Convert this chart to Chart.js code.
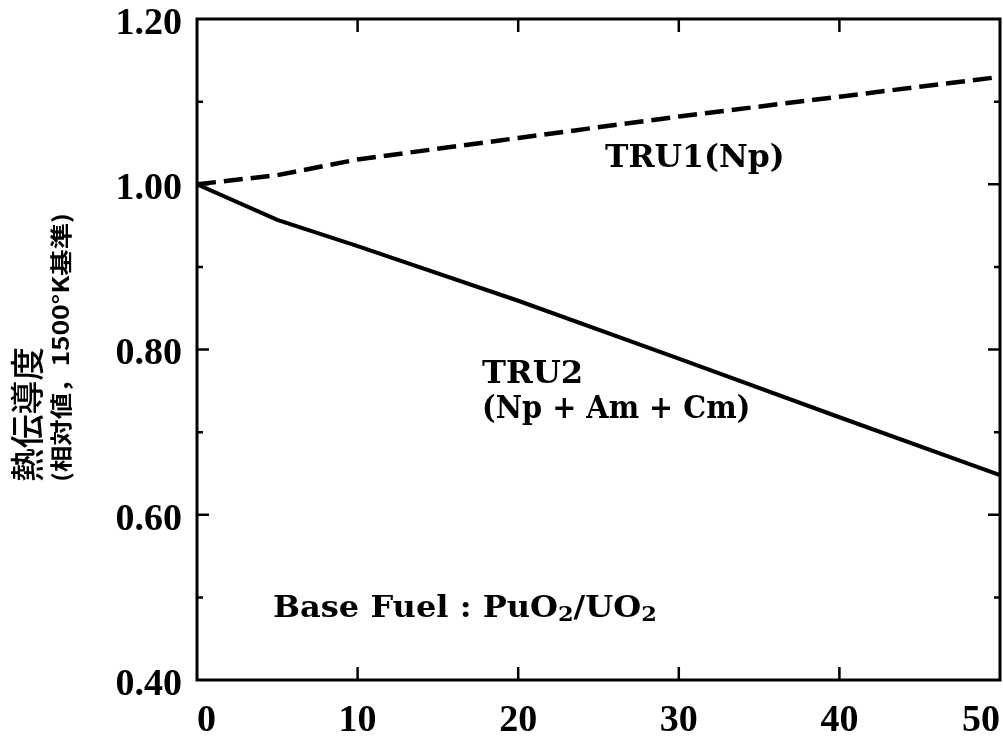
<!DOCTYPE html>
<html>
<head>
<meta charset="utf-8">
<script src="https://cdn.jsdelivr.net/npm/chart.js@4/dist/chart.umd.min.js"></script>
<style>
html,body{margin:0;padding:0;background:#fff;}
canvas{display:block;}
</style>
</head>
<body>
<canvas id="c" width="1003" height="738"></canvas>
<script>
// ---- data ----
const burnup = [0, 5, 10, 20, 30, 40, 50];
const tru1Np = [1.000, 1.011, 1.030, 1.056, 1.082, 1.106, 1.130];
const tru2NpAmCm = [1.000, 0.957, 0.925, 0.859, 0.789, 0.718, 0.648];
const xTickValues = [0, 10, 20, 30, 40, 50];
const yTickLabels = ['0.40', '0.60', '0.80', '1.00', '1.20'];
const yTitleLine1 = '熱伝導度';
const yTitleLine2 = '(相対値，1500°K基準)';
const label1 = 'TRU1(Np)';
const label2a = 'TRU2';
const label2b = '(Np + Am + Cm)';
const baseFuelParts = [['Base Fuel : PuO', false], ['2', true], ['/UO', false], ['2', true]];

const tickFont = {family: '"Liberation Serif", "Times New Roman", serif', weight: 'bold', size: 38, lineHeight: 1};
const annFont = 'bold 32px "DejaVu Serif", "Liberation Serif", serif';

function fitText(ctx, text, x, y, w) {
  const m = ctx.measureText(text).width;
  ctx.save();
  ctx.translate(x, y);
  ctx.scale(w / m, 1);
  ctx.fillText(text, 0, 0);
  ctx.restore();
}

const framePlugin = {
  id: 'frame',
  afterDraw(chart) {
    const ctx = chart.ctx, a = chart.chartArea;
    const xs = chart.scales.x, ys = chart.scales.y;
    ctx.save();
    ctx.strokeStyle = '#000';
    ctx.lineWidth = 3;
    ctx.strokeRect(a.left, a.top, a.right - a.left, a.bottom - a.top);
    ctx.lineWidth = 2.5;
    ctx.beginPath();
    ys.ticks.forEach(t => {
      const v = t.value;
      if (Math.abs(v - ys.min) < 1e-6 || Math.abs(v - ys.max) < 1e-6) return;
      const major = Math.round(v * 10) % 2 === 0;
      const len = major ? 12 : 6;
      const py = ys.getPixelForValue(v);
      ctx.moveTo(a.left, py); ctx.lineTo(a.left + len, py);
      ctx.moveTo(a.right, py); ctx.lineTo(a.right - len, py);
    });
    xs.ticks.forEach(t => {
      const v = t.value;
      if (v === xs.min || v === xs.max) return;
      const px = xs.getPixelForValue(v);
      ctx.moveTo(px, a.bottom); ctx.lineTo(px, a.bottom - 13);
      ctx.moveTo(px, a.top); ctx.lineTo(px, a.top + 13);
    });
    ctx.stroke();

    // annotations
    ctx.fillStyle = '#000';
    ctx.font = annFont;
    ctx.textBaseline = 'alphabetic';
    ctx.textAlign = 'left';
    const X = v => xs.getPixelForValue(v), Y = v => ys.getPixelForValue(v);
    const unit = X(1) - X(0);
    fitText(ctx, label1, X(25.4), Y(1.021), 11.2 * unit);
    fitText(ctx, label2a, X(17.75), Y(0.759), 6.3 * unit);
    fitText(ctx, label2b, X(17.75), Y(0.717), 16.7 * unit);

    // base fuel with subscripts
    const bigF = 'bold 30px "DejaVu Serif", "Liberation Serif", serif';
    const smallF = 'bold 21px "DejaVu Serif", "Liberation Serif", serif';
    let total = 0;
    baseFuelParts.forEach(([s, sub]) => { ctx.font = sub ? smallF : bigF; total += ctx.measureText(s).width; });
    const target = 23.9 * unit;
    const bx = X(4.73), by = Y(0.476);
    ctx.save();
    ctx.translate(bx, by);
    ctx.scale(target / total, 1);
    let cx = 0;
    baseFuelParts.forEach(([s, sub]) => {
      ctx.font = sub ? smallF : bigF;
      ctx.fillText(s, cx, sub ? 4 : 0);
      cx += ctx.measureText(s).width;
    });
    ctx.restore();

    // y title (rotated)
    ctx.save();
    ctx.translate(27, 482);
    ctx.rotate(-Math.PI / 2);
    ctx.font = '500 34px "Noto Sans CJK JP", sans-serif';
    ctx.textBaseline = 'middle';
    fitText(ctx, yTitleLine1, 0, 0, 135);
    ctx.restore();
    ctx.save();
    ctx.translate(61, 482);
    ctx.rotate(-Math.PI / 2);
    ctx.font = 'bold 22px "Noto Sans CJK JP", sans-serif';
    ctx.textBaseline = 'middle';
    fitText(ctx, yTitleLine2, 0, 0, 269);
    ctx.restore();
    ctx.restore();
  }
};

new Chart(document.getElementById('c'), {
  type: 'line',
  data: {
    labels: burnup,
    datasets: [
      {label: 'TRU1(Np)', data: burnup.map((x, i) => ({x, y: tru1Np[i]})), borderColor: '#000', borderWidth: 4.5, borderDash: [19, 8], pointRadius: 0, tension: 0, fill: false},
      {label: 'TRU2(Np+Am+Cm)', data: burnup.map((x, i) => ({x, y: tru2NpAmCm[i]})), borderColor: '#000', borderWidth: 4, pointRadius: 0, tension: 0, fill: false}
    ]
  },
  options: {
    responsive: false,
    devicePixelRatio: 1,
    animation: false,
    layout: {padding: {left: 0, top: 19, right: 3, bottom: 0}, autoPadding: false},
    plugins: {legend: {display: false}, tooltip: {enabled: false}},
    scales: {
      x: {
        type: 'linear', min: 0, max: 50,
        afterBuildTicks(s) { s.ticks = xTickValues.map(v => ({value: v})); },
        ticks: {stepSize: 10, align: 'inner', font: tickFont, color: '#000', padding: 22, maxRotation: 0, callback: v => String(v)},
        grid: {drawOnChartArea: false, drawTicks: false, display: false},
        border: {display: false},
        afterFit(s) { s.height = 58; s.paddingLeft = 0; s.paddingRight = 0; s.paddingTop = 0; s.paddingBottom = 0; }
      },
      y: {
        min: 0.4, max: 1.2,
        ticks: {stepSize: 0.1, font: tickFont, color: '#000', padding: 15, labelOffset: 5,
          callback: v => { const k = Math.round(v * 10); if (k % 2 !== 0) return ''; return yTickLabels[(k - 4) / 2]; }},
        grid: {drawOnChartArea: false, drawTicks: false, display: false},
        border: {display: false},
        afterFit(s) { s.width = 197; s.paddingLeft = 0; s.paddingRight = 0; s.paddingTop = 0; s.paddingBottom = 0; }
      }
    }
  },
  plugins: [framePlugin]
});
</script>
</body>
</html>
